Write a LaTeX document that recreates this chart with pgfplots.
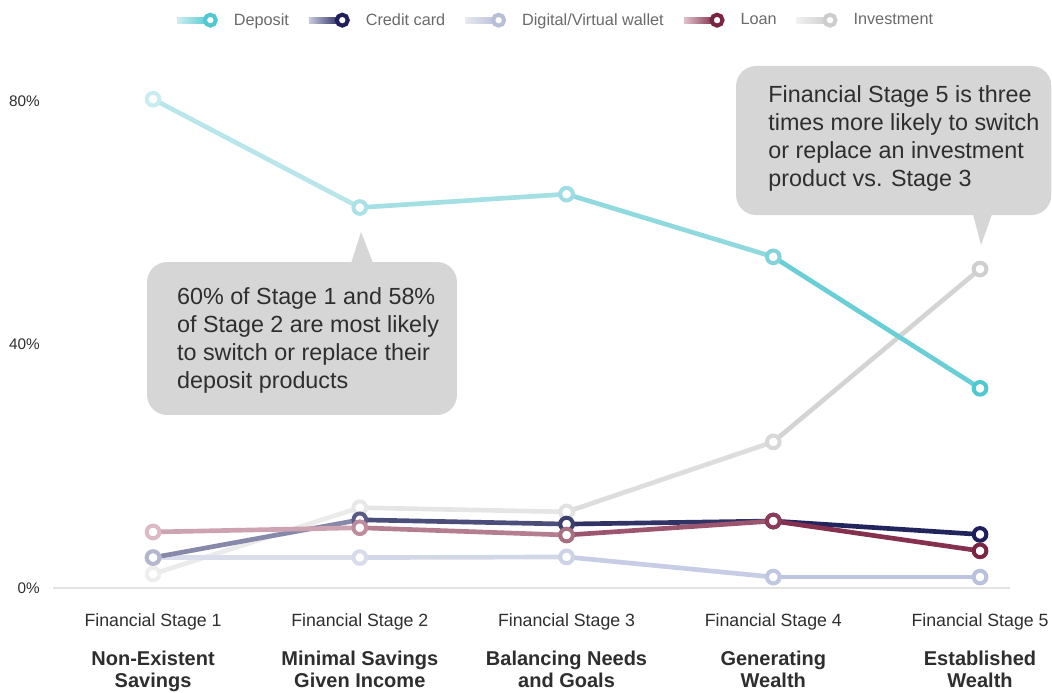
\documentclass[border=0pt]{standalone}
\usepackage{pgfplots}
\pgfplotsset{compat=1.18}
\usepackage{fontspec}
\setmainfont{Liberation Sans}
\definecolor{txt}{HTML}{2E2E2E}
\definecolor{legtxt}{HTML}{6A6A6A}
\definecolor{callout}{HTML}{D6D6D6}
\definecolor{basegray}{HTML}{E3E3E3}
\definecolor{depL}{RGB}{205,238,241}\definecolor{depD}{RGB}{79,200,209}
\definecolor{ccL}{RGB}{200,202,220}\definecolor{ccD}{RGB}{30,31,92}
\definecolor{dwL}{RGB}{230,232,242}\definecolor{dwD}{RGB}{185,190,215}
\definecolor{loL}{RGB}{225,195,205}\definecolor{loD}{RGB}{123,35,66}
\definecolor{inL}{RGB}{240,240,240}\definecolor{inD}{RGB}{205,205,205}
\pgfplotsset{
 colormap={depcm}{rgb255(0cm)=(200,236,239) rgb255(1cm)=(170,225,230) rgb255(2cm)=(158,221,227) rgb255(3cm)=(130,212,218) rgb255(4cm)=(79,200,209)},
 colormap={cccm}{rgb255(0cm)=(180,182,205) rgb255(1cm)=(90,92,135) rgb255(2cm)=(60,62,110) rgb255(3cm)=(38,40,95) rgb255(4cm)=(30,31,92)},
 colormap={dwcm}{rgb255(0cm)=(222,225,238) rgb255(1cm)=(215,219,234) rgb255(2cm)=(205,211,230) rgb255(3cm)=(192,199,225) rgb255(4cm)=(185,193,222)},
 colormap={locm}{rgb255(0cm)=(220,185,196) rgb255(1cm)=(190,140,157) rgb255(2cm)=(170,110,130) rgb255(3cm)=(140,60,90) rgb255(4cm)=(123,35,66)},
 colormap={incm}{rgb255(0cm)=(238,238,238) rgb255(1cm)=(232,232,232) rgb255(2cm)=(226,226,226) rgb255(3cm)=(216,216,216) rgb255(4cm)=(207,207,207)},
 seriesline/.style={mesh, shader=flat mean, point meta=x, line width=3.5pt, line cap=round, line join=round, forget plot},
 seriesmark/.style={scatter, only marks, point meta=x, mark=*, mark size=4.75pt, mark options={line width=3pt}, scatter/use mapped color={draw=mapped color, fill=white}, forget plot},
 legimg/.style 2 args={legend image code/.code={\shade[draw=none, left color=#1, right color=#2] (0pt,-2.2pt) rectangle (25pt,2.2pt); \draw[#2, line width=3pt, fill=white] (25pt,0pt) circle (4.1pt);}},
}
\pgfplotstableread{
x y
0 80.3
1 62.5
2 64.7
3 54.4
4 32.8
}\deposit
\pgfplotstableread{
x y
0 5.0
1 11.2
2 10.5
3 11.0
4 8.8
}\credit
\pgfplotstableread{
x y
0 5.0
1 5.0
2 5.1
3 1.8
4 1.8
}\digital
\pgfplotstableread{
x y
0 9.2
1 9.9
2 8.7
3 11.0
4 6.1
}\loan
\pgfplotstableread{
x y
0 2.3
1 13.2
2 12.5
3 24.0
4 52.4
}\invest
\begin{document}
\begin{tikzpicture}
\begin{axis}[name=ax, scale only axis, width=717.75pt, height=365.25pt,
 xmin=-0.484, xmax=4.145, ymin=0, ymax=80, clip=false,
 axis line style={draw=none}, tick style={draw=none}, major tick length=0pt,
 xtick={0,1,2,3,4},
 xticklabels={Financial Stage 1,Financial Stage 2,Financial Stage 3,Financial Stage 4,Financial Stage 5},
 xticklabel style={anchor=north, inner sep=0pt, font=\fontsize{13.3}{15}\selectfont, text=txt},
 xticklabel shift=19pt,
 extra x ticks={0,1,2,3,4},
 extra x tick labels={{Non-Existent\\Savings},{Minimal Savings\\Given Income},{Balancing Needs\\and Goals},{Generating\\Wealth},{Established\\Wealth}},
 extra x tick style={xticklabel shift=47pt, xticklabel style={font=\fontsize{15}{16.5}\selectfont\bfseries, align=center}},
 ytick={0,40,80}, yticklabels={0\%,40\%,80\%},
 yticklabel style={anchor=east, inner sep=0pt, xshift=-9.75pt, font=\fontsize{11.5}{13}\selectfont, text=txt},
 point meta min=0, point meta max=4,
 legend columns=5,
 legend cell align=left,
 legend style={at={(0.526,1.166)}, anchor=center, draw=none, fill=none,
   font=\fontsize{12.2}{14}\selectfont, text=legtxt,
   /tikz/every odd column/.style={column sep=10pt},
   /tikz/every even column/.style={column sep=13pt}},
]
\draw[basegray, line width=1.5pt] (axis cs:-0.484,0) -- (axis cs:4.145,0);

% callouts
\fill[callout, rounded corners=15pt] (axis cs:-0.029,28.42) rectangle (axis cs:1.470,53.55);
\fill[callout] (axis cs:0.958,53.4) -- (axis cs:1.006,58.48) -- (axis cs:1.064,53.4) -- cycle;
\node[anchor=north west, inner sep=0pt, align=left, font=\fontsize{17.5}{21}\selectfont, text=txt] at (axis cs:0.115,49.45)
 {60\% of Stage 1 and 58\%\\of Stage 2 are most likely\\to switch or replace their\\deposit products};
\fill[callout, rounded corners=15pt] (axis cs:2.820,61.27) rectangle (axis cs:4.345,85.75);
\fill[callout] (axis cs:3.966,61.4) -- (axis cs:4.005,56.34) -- (axis cs:4.058,61.4) -- cycle;
\node[anchor=north west, inner sep=0pt, align=left, font=\fontsize{17.5}{21}\selectfont, text=txt] at (axis cs:2.975,82.6)
 {Financial Stage 5 is three\\times more likely to switch\\or replace an investment\\product vs. Stage 3};

% series
\addplot[seriesline, colormap name=incm] table {\invest};
\addplot[seriesmark, colormap name=incm] table {\invest};
\addplot[seriesline, colormap name=dwcm] table {\digital};
\addplot[seriesmark, colormap name=dwcm] table {\digital};
\addplot[seriesline, colormap name=depcm] table {\deposit};
\addplot[seriesmark, colormap name=depcm] table {\deposit};
\addplot[seriesline, colormap name=cccm] table {\credit};
\addplot[seriesmark, colormap name=cccm] table {\credit};
\addplot[seriesline, colormap name=locm] table {\loan};
\addplot[seriesmark, colormap name=locm] table {\loan};

% legend
\addlegendimage{legimg={depL}{depD}}
\addlegendentry{Deposit}
\addlegendimage{legimg={ccL}{ccD}}
\addlegendentry{Credit card}
\addlegendimage{legimg={dwL}{dwD}}
\addlegendentry{Digital/Virtual wallet}
\addlegendimage{legimg={loL}{loD}}
\addlegendentry{Loan}
\addlegendimage{legimg={inL}{inD}}
\addlegendentry{Investment}
\end{axis}
\pgfresetboundingbox
\path ([xshift=-39.75pt,yshift=-78pt]ax.south west) rectangle ([xshift=31.5pt,yshift=75.75pt]ax.north east);
\end{tikzpicture}
\end{document}
